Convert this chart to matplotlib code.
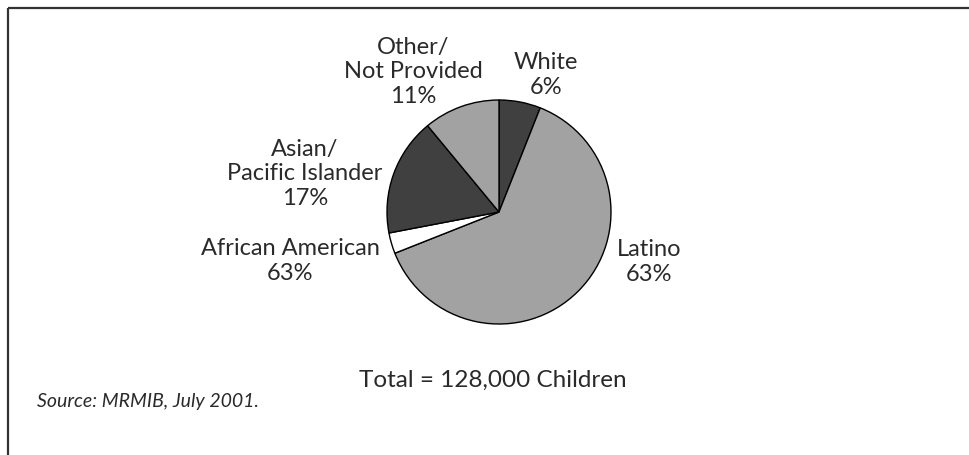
import matplotlib
matplotlib.use("Agg")
import matplotlib.pyplot as plt

# --- data ---
groups = ["White", "Latino", "African American", "Asian/\nPacific Islander", "Other/\nNot Provided"]
shares = [6, 63, 3, 17, 11]
shown_pct = ["6%", "63%", "63%", "17%", "11%"]  # as printed in the original
fills = ["#404040", "#a2a2a2", "#ffffff", "#404040", "#a2a2a2"]
total_note = "Total = 128,000 Children"
source_note = "Source: MRMIB, July 2001."

W, H = 969, 455
plt.rcParams["font.family"] = ["Lato", "DejaVu Sans"]

fig = plt.figure(figsize=(W / 100, H / 100), dpi=100)
ax = fig.add_axes([0, 0, 1, 1])

# pie, clockwise from 12 o'clock
ax.pie(shares, colors=fills, startangle=90, counterclock=False,
       center=(499, H - 212), radius=112, frame=True,
       wedgeprops=dict(edgecolor="black", linewidth=1.0))
ax.set_xlim(0, W)
ax.set_ylim(0, H)
ax.set_aspect("equal")
ax.axis("off")

# label anchors (pixel coords, y from top)
label_pos = [(546, 75), (649, 262), (290, 261), (305, 174), (413, 72)]
for name, pct, (x, y) in zip(groups, shown_pct, label_pos):
    ax.text(x, H - y, name + "\n" + pct, ha="center", va="center",
            fontsize=17, color="#2a2a2a", linespacing=1.22)

ax.text(493, H - 380, total_note, ha="center", va="center", fontsize=17.5, color="#2a2a2a")
ax.text(37, H - 401, source_note, ha="left", va="center", fontsize=14,
        style="italic", color="#2a2a2a")

# frame lines (top and left only)
ax.plot([8, W], [H - 8, H - 8], color="#333333", lw=1.6, solid_capstyle="butt")
ax.plot([8, 8], [H - 8, 0], color="#333333", lw=1.6, solid_capstyle="butt")

fig.savefig("out.png", dpi=100)
